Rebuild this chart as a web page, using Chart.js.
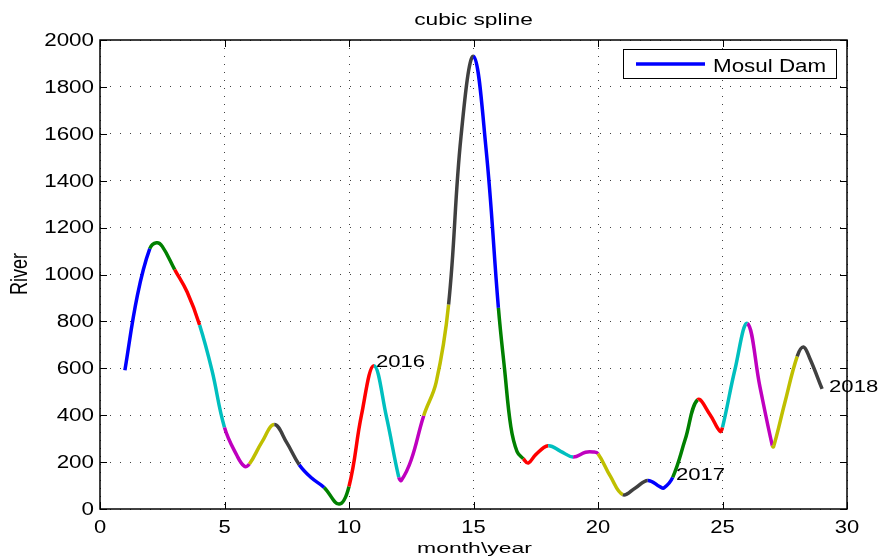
<!DOCTYPE html>
<html>
<head>
<meta charset="utf-8">
<script src="https://cdn.jsdelivr.net/npm/chart.js@4"></script>
<style>
  html, body { margin: 0; padding: 0; background: #fff; }
</style>
</head>
<body>
<canvas id="chart_spline" width="881" height="557"></canvas>
<script>
// values (integer months plus a few in-between readings)
var months = [1, 1.5, 2, 2.27, 2.5, 3, 3.5, 4, 4.5, 5, 5.5, 5.8, 6, 6.5, 7, 7.5, 8, 8.5, 9, 9.6, 10,
  10.5, 11, 11.5, 12, 12.1, 12.5, 13, 13.5, 14, 14.5, 15, 15.5, 16, 16.25, 16.5, 16.75, 17, 17.2, 17.5, 18, 18.5,
  19, 19.5, 19.8, 20, 20.5, 21, 21.5, 22, 22.5, 22.65, 23, 23.5, 24, 24.5, 24.9, 25, 25.5, 26, 26.5,
  27, 27.05, 27.5, 28, 28.25, 28.5, 29];
var river = [592, 910, 1110, 1135, 1120, 1021, 925, 785, 590, 348, 228, 182, 192, 285, 360, 283, 189, 132, 92, 21, 96,
  400, 611, 395, 135, 122, 210, 398, 540, 872, 1590, 1930, 1540, 858, 594, 351, 245, 214, 196, 232, 270, 246,
  222, 242, 243, 236, 139, 61, 90, 122, 94, 90, 135, 296, 466, 402, 331, 348, 595, 791, 523,
  270, 265, 452, 651, 691, 644, 512];
var xTicks = [0, 5, 10, 15, 20, 25, 30];
var yTicks = [0, 200, 400, 600, 800, 1000, 1200, 1400, 1600, 1800, 2000];
var yearNotes = ['2016', '2017', '2018'];
var yearMonths = [11.08, 23.13, 29.28];
var yearValues = [607, 125, 500];

// matlab default colour order
var lineColors = ['#0000ff', '#008000', '#ff0000', '#00bfbf', '#bf00bf', '#bfbf00', '#404040'];

var FONT = 'Liberation Sans, Arial, Helvetica, sans-serif';

function segColor(c) {
  var i = Math.floor(c.p0.parsed.x - 1 + 1e-6);
  return lineColors[((i % 7) + 7) % 7];
}

// the reference text is wider than it is tall, so stretch it sideways
function wideText(ctx, text, x, y, size, sx, align, base) {
  ctx.save();
  ctx.translate(x, y);
  ctx.scale(sx, 1);
  ctx.font = size + 'px ' + FONT;
  ctx.textAlign = align;
  ctx.textBaseline = base;
  ctx.fillText(text, 0, 0);
  ctx.restore();
}

// frame, inward ticks, texts and legend box
var matlabLook = {
  id: 'matlabLook',
  afterDraw: function(chart) {
    var ctx = chart.ctx;
    var a = chart.chartArea;
    var xs = chart.scales.x, ys = chart.scales.y;
    ctx.save();

    ctx.strokeStyle = '#000';
    ctx.lineWidth = 1.5;
    ctx.strokeRect(a.left, a.top, a.right - a.left, a.bottom - a.top);
    ctx.lineWidth = 1;
    ctx.beginPath();
    xTicks.forEach(function(v) {
      var px = Math.round(xs.getPixelForValue(v)) + 0.5;
      ctx.moveTo(px, a.bottom); ctx.lineTo(px, a.bottom - 7);
      ctx.moveTo(px, a.top); ctx.lineTo(px, a.top + 7);
    });
    yTicks.forEach(function(v) {
      var py = Math.round(ys.getPixelForValue(v)) + 0.5;
      ctx.moveTo(a.left, py); ctx.lineTo(a.left + 7, py);
      ctx.moveTo(a.right, py); ctx.lineTo(a.right - 7, py);
    });
    ctx.stroke();

    ctx.fillStyle = '#000';
    xTicks.forEach(function(v) {
      wideText(ctx, String(v), xs.getPixelForValue(v), 532.5, 18, 1.22, 'center', 'alphabetic');
    });
    yTicks.forEach(function(v) {
      wideText(ctx, String(v), 94, ys.getPixelForValue(v) + 1, 17.5, 1.28, 'right', 'middle');
    });

    wideText(ctx, 'cubic spline', (a.left + a.right) / 2, 25, 16, 1.42, 'center', 'alphabetic');
    wideText(ctx, 'month\\year', (a.left + a.right) / 2 + 1, 552.5, 15.5, 1.48, 'center', 'alphabetic');
    ctx.save();
    ctx.translate(27, 274);
    ctx.rotate(-Math.PI / 2);
    ctx.scale(1, 1.3);
    ctx.font = '18px ' + FONT;
    ctx.textAlign = 'center';
    ctx.textBaseline = 'alphabetic';
    ctx.fillText('River', 0, 0);
    ctx.restore();

    // year labels next to their points
    yearNotes.forEach(function(t, i) {
      wideText(ctx, t, xs.getPixelForValue(yearMonths[i]), ys.getPixelForValue(yearValues[i]),
        17, 1.3, 'left', 'alphabetic');
    });

    // legend
    var lx = 623, ly = 49.5, lw = 213, lh = 29;
    ctx.fillStyle = '#fff';
    ctx.fillRect(lx, ly, lw, lh);
    ctx.lineWidth = 1;
    ctx.strokeStyle = '#000';
    ctx.strokeRect(lx + 0.5, ly, lw, lh);
    ctx.strokeStyle = lineColors[0];
    ctx.lineWidth = 3.5;
    ctx.beginPath();
    ctx.moveTo(636, ly + lh / 2);
    ctx.lineTo(705, ly + lh / 2);
    ctx.stroke();
    ctx.fillStyle = '#000';
    wideText(ctx, 'Mosul Dam', 713, 71.5, 18.5, 1.21, 'left', 'alphabetic');

    ctx.restore();
  }
};

var points = months.map(function(m, i) { return { x: m, y: river[i] }; });

new Chart(document.getElementById('chart_spline').getContext('2d'), {
  type: 'line',
  data: {
    datasets: [{
      label: 'Mosul Dam',
      data: points,
      borderColor: lineColors[0],
      borderWidth: 3.5,
      pointRadius: 0,
      fill: false,
      tension: 0.4,
      segment: { borderColor: segColor }
    }]
  },
  options: {
    responsive: false,
    animation: false,
    layout: { padding: { top: 40, right: 34, left: 0, bottom: 0 } },
    plugins: {
      legend: { display: false },
      title: { display: false },
      tooltip: { enabled: false }
    },
    scales: {
      x: {
        type: 'linear',
        min: 0,
        max: 30,
        afterBuildTicks: function(s) { s.ticks = xTicks.map(function(v) { return { value: v }; }); },
        afterFit: function(s) { s.height = 48; },
        ticks: { display: false },
        grid: { color: 'rgba(0,0,0,0.75)', drawTicks: false, lineWidth: 1 },
        border: { display: false, dash: [1, 7] }
      },
      y: {
        min: 0,
        max: 2000,
        afterBuildTicks: function(s) { s.ticks = yTicks.map(function(v) { return { value: v }; }); },
        afterFit: function(s) { s.width = 100; },
        ticks: { display: false },
        grid: { color: 'rgba(0,0,0,0.75)', drawTicks: false, lineWidth: 1 },
        border: { display: false, dash: [1, 9] }
      }
    }
  },
  plugins: [matlabLook]
});
</script>
</body>
</html>
